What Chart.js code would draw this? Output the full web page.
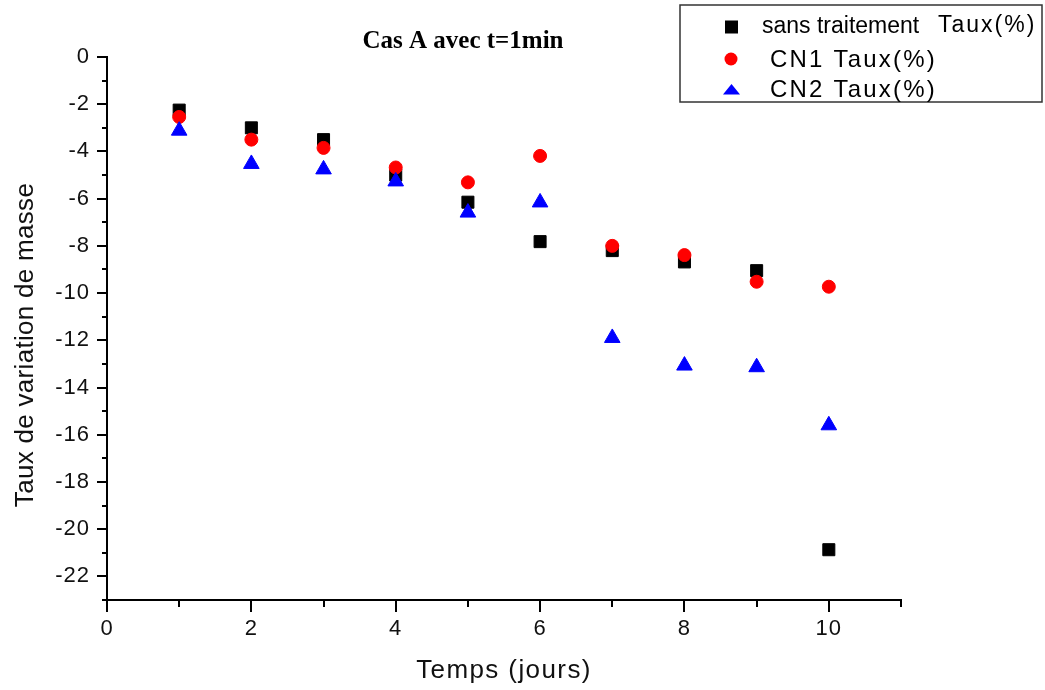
<!DOCTYPE html>
<html>
<head>
<meta charset="utf-8">
<script src="https://cdn.jsdelivr.net/npm/chart.js@4/dist/chart.umd.min.js"></script>
<style>
  body { margin: 0; background: #fff; }
  #wrap { width: 1045px; height: 690px; }
</style>
</head>
<body>
<div id="wrap"><canvas id="chart" width="1045" height="690"></canvas></div>
<script>
const jours = [1, 2, 3, 4, 5, 6, 7, 8, 9, 10];
const sansTraitement = [-2.25, -3.0, -3.5, -5.0, -6.15, -7.82, -8.2, -8.68, -9.05, -20.87];
const cn1 = [-2.54, -3.5, -3.85, -4.68, -5.31, -4.19, -8.0, -8.39, -9.52, -9.73];
const cn2 = [-3.12, -4.53, -4.76, -5.27, -6.59, -6.16, -11.9, -13.07, -13.14, -15.6];

const xMin = 0, xMax = 11;
const yMin = -23, yMax = 0;

function pts(vals) {
    return jours.map((j, i) => ({x: j, y: vals[i]}));
}

// ticks (major + minor), titles and legend drawn by hand
const decor = {
    id: "decor",
    beforeDraw(chart) {
        chart.ctx.letterSpacing = "1px";
    },
    afterDraw(chart) {
        const ctx = chart.ctx;
        const x = chart.scales.x, y = chart.scales.y;
        ctx.save();
        ctx.letterSpacing = "0px";
        ctx.strokeStyle = "#000";
        ctx.lineWidth = 2;
        ctx.beginPath();
        for (let v = xMin; v <= xMax; v++) {
            const px = Math.round(x.getPixelForValue(v));
            const len = v % 2 === 0 ? 12 : 7;
            ctx.moveTo(px, y.bottom);
            ctx.lineTo(px, y.bottom + len);
        }
        for (let v = yMax; v >= yMin; v--) {
            const py = Math.round(y.getPixelForValue(v));
            const len = v % 2 === 0 ? 10 : 5;
            ctx.moveTo(x.left, py);
            ctx.lineTo(x.left - len, py);
        }
        ctx.stroke();

        // title
        ctx.fillStyle = "#000";
        ctx.textAlign = "center";
        ctx.textBaseline = "alphabetic";
        ctx.font = "bold 25px 'Liberation Serif'";
        ctx.fillText("Cas A avec t=1min", 463, 48);

        // axis titles
        ctx.fillStyle = "#111";
        ctx.font = "26px 'Liberation Sans'";
        ctx.letterSpacing = "1.4px";
        ctx.fillText("Temps (jours)", 504, 678);
        ctx.save();
        ctx.translate(33, 345);
        ctx.rotate(-Math.PI / 2);
        ctx.letterSpacing = "0.3px";
        ctx.fillText("Taux de variation de masse", 0, 0);
        ctx.restore();

        // legend
        ctx.letterSpacing = "0px";
        ctx.strokeStyle = "#333";
        ctx.lineWidth = 1.5;
        ctx.strokeRect(680, 5, 362, 97);
        ctx.fillStyle = "#000";
        ctx.fillRect(725, 20.5, 13, 13);
        ctx.fillStyle = "#ff0000";
        ctx.beginPath();
        ctx.arc(731, 59, 6.5, 0, Math.PI * 2);
        ctx.fill();
        ctx.fillStyle = "#0000ff";
        ctx.beginPath();
        ctx.moveTo(723, 94.5);
        ctx.lineTo(740, 94.5);
        ctx.lineTo(731.5, 84);
        ctx.closePath();
        ctx.fill();

        ctx.fillStyle = "#000";
        ctx.textAlign = "left";
        ctx.font = "23px 'Liberation Sans'";
        ctx.fillText("sans traitement", 762, 33);
        ctx.letterSpacing = "2px";
        ctx.fillText("Taux(%)", 938, 32);
        ctx.font = "24px 'Liberation Sans'";
        ctx.letterSpacing = "2.2px";
        ctx.fillText("CN1 Taux(%)", 770, 67);
        ctx.fillText("CN2 Taux(%)", 770, 97);
        ctx.restore();
        ctx.letterSpacing = "0px";
    }
};

new Chart(document.getElementById("chart"), {
    type: "scatter",
    data: {
        datasets: [
            {
                label: "sans traitement Taux(%)",
                data: pts(sansTraitement),
                pointStyle: "rect",
                pointRadius: 8.5,
                backgroundColor: "#000000",
                borderColor: "#000000",
                borderWidth: 1,
                order: 3
            },
            {
                label: "CN1 Taux(%)",
                data: pts(cn1),
                pointStyle: "circle",
                pointRadius: 6.5,
                backgroundColor: "#ff0000",
                borderColor: "#ff0000",
                borderWidth: 1,
                order: 2
            },
            {
                label: "CN2 Taux(%)",
                data: pts(cn2),
                pointStyle: "triangle",
                pointRadius: 9,
                backgroundColor: "#0000ff",
                borderColor: "#0000ff",
                borderWidth: 1,
                order: 1
            }
        ]
    },
    options: {
        responsive: false,
        animation: false,
        layout: {padding: {top: 57, right: 144, left: 0, bottom: 0}},
        plugins: {legend: {display: false}, tooltip: {enabled: false}},
        scales: {
            x: {
                type: "linear",
                min: xMin,
                max: xMax,
                afterFit: s => { s.height = 90; },
                grid: {display: false, drawTicks: false},
                border: {display: true, color: "#000", width: 2},
                ticks: {
                    stepSize: 1,
                    autoSkip: false,
                    maxRotation: 0,
                    padding: 16,
                    color: "#111",
                    font: {family: "'Liberation Sans'", size: 22},
                    callback: v => (v % 2 === 0 ? String(v) : "")
                }
            },
            y: {
                type: "linear",
                min: yMin,
                max: yMax,
                afterFit: s => { s.width = 107; },
                grid: {display: false, drawTicks: false},
                border: {display: true, color: "#000", width: 2},
                ticks: {
                    stepSize: 1,
                    autoSkip: false,
                    padding: 17,
                    color: "#111",
                    font: {family: "'Liberation Sans'", size: 22},
                    callback: v => (v % 2 === 0 ? String(v) : "")
                }
            }
        }
    },
    plugins: [decor]
});
</script>
</body>
</html>
